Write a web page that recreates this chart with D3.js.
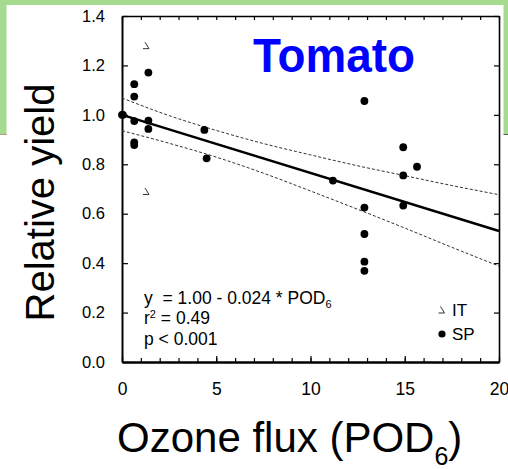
<!DOCTYPE html>
<html>
<head>
<meta charset="utf-8">
<script src="https://cdn.jsdelivr.net/npm/d3@7"></script>
<style>
  html, body { margin: 0; padding: 0; background: #fff; }
  svg { display: block; font-family: Arial, "Liberation Sans", sans-serif; }
</style>
</head>
<body>
<svg id="chart" width="508" height="469"></svg>
<script>
// SP sites (filled dots)
const spX = [ 0, 0.05, 0.65, 0.65, 0.65, 0.65, 0.65, 1.4, 1.4, 1.4, 4.37, 4.49, 11.19, 12.86, 12.86, 12.86, 12.86, 12.86, 14.92, 14.92, 14.92, 15.65 ];
const spY = [ 1.00, 1.00, 1.124, 1.074, 0.975, 0.889, 0.878, 1.171, 0.977, 0.943, 0.939, 0.824, 0.734, 1.056, 0.625, 0.518, 0.406, 0.369, 0.869, 0.755, 0.633, 0.790 ];
// IT sites (open triangles)
const itX = [ 1.3, 1.3 ];
const itY = [ 1.28, 0.69 ];
// regression line and 95% band
const fitX = [ 0, 20 ];
const fitY = [ 1.00, 0.53 ];
const bandX = [ 0, 2.5, 5, 7.5, 10, 12.5, 15, 17.5, 20 ];
const bandUpper = [ 1.068, 0.997, 0.937, 0.884, 0.838, 0.794, 0.754, 0.714, 0.677 ];
const bandLower = [ 0.936, 0.885, 0.829, 0.764, 0.692, 0.618, 0.542, 0.464, 0.388 ];
const xTicks = [ 0, 5, 10, 15, 20 ];
const yTicks = [ 0, 0.2, 0.4, 0.6, 0.8, 1.0, 1.2, 1.4 ];

const svg = d3.select( "#chart" );
const GREEN = "#a6db8f";

// slide frame remnants
svg.append( "rect" ).attr( "width", 508 ).attr( "height", 469 ).attr( "fill", "#fff" );
svg.append( "rect" ).attr( "x", 0 ).attr( "y", 0 ).attr( "width", 508 ).attr( "height", 5 ).attr( "fill", GREEN );
svg.append( "rect" ).attr( "x", 0 ).attr( "y", 0 ).attr( "width", 6.5 ).attr( "height", 134 ).attr( "fill", GREEN );
svg.append( "rect" ).attr( "x", 503.5 ).attr( "y", 0 ).attr( "width", 4.5 ).attr( "height", 134 ).attr( "fill", GREEN );
svg.append( "line" ).attr( "x1", 0 ).attr( "x2", 7 ).attr( "y1", 134.5 ).attr( "y2", 134.5 )
  .attr( "stroke", "#b89a7c" ).attr( "stroke-width", 1 );
svg.append( "line" ).attr( "x1", 503.5 ).attr( "x2", 508 ).attr( "y1", 134.5 ).attr( "y2", 134.5 )
  .attr( "stroke", "#555" ).attr( "stroke-width", 1 );

const x = d3.scaleLinear().domain( [ 0, 20 ] ).range( [ 122, 499 ] );
const y = d3.scaleLinear().domain( [ 0, 1.4 ] ).range( [ 362, 16 ] );

function styleAxis( g, w ) {
  g.attr( "font-family", null ).attr( "font-size", null );
  g.select( ".domain" ).attr( "stroke", "#000" ).attr( "stroke-width", w );
  g.selectAll( ".tick line" ).attr( "stroke", "#000" ).attr( "stroke-width", 1.2 );
  g.selectAll( ".tick text" ).attr( "fill", "#000" );
}

// minor ticks
svg.append( "g" )
  .attr( "transform", `translate(0,${y( 0 )})` )
  .call( d3.axisBottom( x ).tickValues( d3.range( 0, 21 ) ).tickSizeInner( -4 ).tickSizeOuter( 0 ).tickFormat( "" ) )
  .call( g => styleAxis( g, 2 ) );
svg.append( "g" )
  .attr( "transform", `translate(0,${y( 1.4 )})` )
  .call( d3.axisTop( x ).tickValues( d3.range( 0, 21 ) ).tickSizeInner( -4 ).tickSizeOuter( 0 ).tickFormat( "" ) )
  .call( g => styleAxis( g, 1.6 ) );

// major ticks + labels
svg.append( "g" )
  .attr( "transform", `translate(0,${y( 0 )})` )
  .call( d3.axisBottom( x ).tickValues( xTicks ).tickSizeInner( -6 ).tickSizeOuter( 0 ).tickPadding( 21 ) )
  .call( g => styleAxis( g, 2 ) )
  .attr( "font-size", 17.5 );
svg.append( "g" )
  .attr( "transform", `translate(${x( 0 )},0)` )
  .call( d3.axisLeft( y ).tickValues( yTicks ).tickSizeInner( -6 ).tickSizeOuter( 0 ).tickPadding( 17 ).tickFormat( d3.format( ".1f" ) ) )
  .call( g => styleAxis( g, 2 ) )
  .attr( "font-size", 16.5 );
svg.append( "g" )
  .attr( "transform", `translate(${x( 20 )},0)` )
  .call( d3.axisRight( y ).tickValues( yTicks ).tickSizeInner( -5 ).tickSizeOuter( 0 ).tickFormat( "" ) )
  .call( g => styleAxis( g, 1.6 ) );

// confidence band
const band = d3.line().x( ( d, i ) => x( bandX[i] ) ).y( d => y( d ) ).curve( d3.curveMonotoneX );
[ bandUpper, bandLower ].forEach( b => {
  svg.append( "path" )
    .attr( "d", band( b ) )
    .attr( "fill", "none" )
    .attr( "stroke", "#333" )
    .attr( "stroke-width", 1 )
    .attr( "stroke-dasharray", "3,2" );
} );

// regression line
svg.append( "path" )
  .attr( "d", d3.line().x( ( d, i ) => x( fitX[i] ) ).y( d => y( d ) )( fitY ) )
  .attr( "fill", "none" )
  .attr( "stroke", "#000" )
  .attr( "stroke-width", 2.5 );

// points
svg.append( "g" ).selectAll( "circle" )
  .data( spY )
  .join( "circle" )
  .attr( "cx", ( d, i ) => x( spX[i] ) )
  .attr( "cy", d => y( d ) )
  .attr( "r", 3.9 )
  .attr( "fill", "#000" );

const triPath = "M-1.5,-3.5 L2.5,3 L-3.5,3";
svg.append( "g" ).selectAll( "path" )
  .data( itY )
  .join( "path" )
  .attr( "transform", ( d, i ) => `translate(${x( itX[i] )},${y( d )})` )
  .attr( "d", triPath )
  .attr( "fill", "none" )
  .attr( "stroke", "#333" )
  .attr( "stroke-width", 1 );

// title
svg.append( "text" )
  .attr( "x", 253 ).attr( "y", 72 )
  .attr( "font-size", 48 ).attr( "font-weight", "bold" )
  .attr( "fill", "#0000ff" )
  .attr( "textLength", 162 ).attr( "lengthAdjust", "spacingAndGlyphs" )
  .text( "Tomato" );

// stats
const stats = svg.append( "g" ).attr( "font-size", 17.5 ).attr( "fill", "#000" );
const t1 = stats.append( "text" ).attr( "x", 144 ).attr( "y", 304 );
t1.append( "tspan" ).text( "y\u00a0 = 1.00 - 0.024 * POD" );
t1.append( "tspan" ).attr( "font-size", 11 ).attr( "dy", 4 ).text( "6" );
const t2 = stats.append( "text" ).attr( "x", 144 ).attr( "y", 324 );
t2.append( "tspan" ).text( "r" );
t2.append( "tspan" ).attr( "font-size", 11 ).attr( "dy", -6 ).text( "2" );
t2.append( "tspan" ).attr( "dy", 6 ).text( " = 0.49" );
stats.append( "text" ).attr( "x", 144 ).attr( "y", 345 ).text( "p < 0.001" );

// legend
svg.append( "path" )
  .attr( "transform", "translate(442,310)" )
  .attr( "d", triPath )
  .attr( "fill", "none" ).attr( "stroke", "#333" ).attr( "stroke-width", 1 );
svg.append( "text" ).attr( "x", 452 ).attr( "y", 316 ).attr( "font-size", 17 ).text( "IT" );
svg.append( "circle" ).attr( "cx", 442 ).attr( "cy", 334 ).attr( "r", 3.6 ).attr( "fill", "#000" );
svg.append( "text" ).attr( "x", 452 ).attr( "y", 340 ).attr( "font-size", 17 ).text( "SP" );

// axis titles
svg.append( "text" )
  .attr( "transform", "translate(54,202.5) rotate(-90)" )
  .attr( "text-anchor", "middle" )
  .attr( "font-size", 40 )
  .text( "Relative yield" );
const xt = svg.append( "text" ).attr( "x", 117 ).attr( "y", 452 ).attr( "font-size", 42 );
xt.append( "tspan" ).text( "Ozone flux (POD" );
xt.append( "tspan" ).attr( "font-size", 25 ).attr( "dy", 13 ).text( "6" );
xt.append( "tspan" ).attr( "dy", -13 ).text( ")" );
</script>
</body>
</html>
